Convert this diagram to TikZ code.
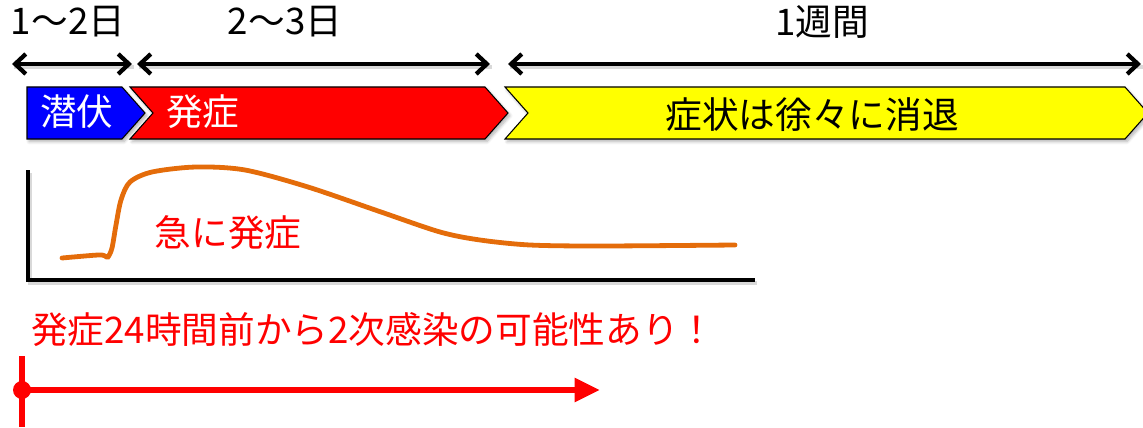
\documentclass[tikz,border=0pt]{standalone}
\usepackage{fontspec}
\setmainfont{Noto Sans CJK JP}
\usetikzlibrary{arrows.meta,shadows.blur}
\definecolor{curveor}{RGB}{228,108,10}
\definecolor{pblue}{RGB}{0,0,255}
\definecolor{pred}{RGB}{255,0,0}
\definecolor{pyellow}{RGB}{255,255,0}
\begin{document}
\begin{tikzpicture}[x=0.75pt,y=-0.75pt,
  lbl/.style={font=\fontsize{27.5pt}{31pt}\selectfont, inner sep=0pt},
  dimarrow/.style={line width=3.2pt, {Straight Barb[length=8pt,width=15pt]}-{Straight Barb[length=8pt,width=15pt]}},
  lshadow/.style={draw=black, opacity=0.15, line width=3pt},
  chev/.style={draw=black, line width=0.8pt, line join=miter,
    blur shadow={shadow xshift=1.5pt, shadow yshift=-2pt, shadow blur steps=6, shadow opacity=30}},
  axisline/.style={line width=2.4pt, line join=miter, draw=black},
  curveline/.style={draw=curveor, line width=3.6pt, line cap=round},
  redline/.style={draw=pred, line width=5pt}
]
\useasboundingbox (0,0) rectangle (1143,428);

% duration labels
\node[lbl] (d1) at (68,22) {1〜2日};
\node[lbl] (d2) at (285,22) {2〜3日};
\node[lbl] (d3) at (822,22) {1週間};

% dimension arrows
\coordinate (a1s) at (12,64);  \coordinate (a1e) at (132,64);
\coordinate (a2s) at (137,64); \coordinate (a2e) at (490,64);
\coordinate (a3s) at (508,64); \coordinate (a3e) at (1141,64);
\draw[lshadow] ([shift={(2,3)}]a1s) -- ([shift={(2,3)}]a1e);
\draw[lshadow] ([shift={(2,3)}]a2s) -- ([shift={(2,3)}]a2e);
\draw[lshadow] ([shift={(2,3)}]a3s) -- ([shift={(2,3)}]a3e);
\draw[dimarrow] (a1s) -- (a1e);
\draw[dimarrow] (a2s) -- (a2e);
\draw[dimarrow] (a3s) -- (a3e);

% chevrons
\path[chev, fill=pblue] (27,87) -- (122,87) -- (145,113) -- (122,139) -- (27,139) -- cycle;
\path[chev, fill=pred] (130,87) -- (485,87) -- (508,113) -- (485,139) -- (130,139) -- (153,113) -- cycle;
\path[chev, fill=pyellow] (505,87) -- (1125,87) -- (1148,113) -- (1125,139) -- (505,139) -- (528,113) -- cycle;
\node[lbl, text=white] (p1) at (77,112) {潜伏};
\node[lbl, text=white, anchor=west] (p2) at (166,112) {発症};
\node[lbl] (p3) at (812,115) {症状は徐々に消退};

% axes
\coordinate (ytop) at (28,170);
\coordinate (orig) at (28,280);
\coordinate (xend) at (755,280);
\draw[lshadow, line width=2.4pt] ([shift={(2,3)}]ytop) -- ([shift={(2,3)}]orig) -- ([shift={(2,3)}]xend);
\draw[axisline] (ytop) -- (orig) -- (xend);

% curve
\draw[curveline] plot[smooth, tension=0.5] coordinates {
  (62,258) (98,255) (105,256) (108,257) (112,248) (116,225) (121,200) (130,182)
  (152,172) (196,167) (245,170) (308,187) (381,212) (440,232) (480,240)
  (530,245) (600,246) (735,245)};
\node[lbl, text=pred] (sud) at (228,233) {急に発症};

% bottom note
\node[lbl, text=pred, anchor=west] (note) at (31,330) {発症24時間前から2次感染の可能性あり！};
\coordinate (rtop) at (22,356);
\coordinate (rbot) at (22,427);
\coordinate (rstart) at (22,390);
\coordinate (rend) at (600,390);
\draw[redline, line width=4.5pt] (rtop) -- (rbot);
\fill[pred] (rstart) circle (9);
\draw[redline, -{Triangle[length=19pt,width=17pt]}] (rstart) -- (rend);
\end{tikzpicture}
\end{document}
